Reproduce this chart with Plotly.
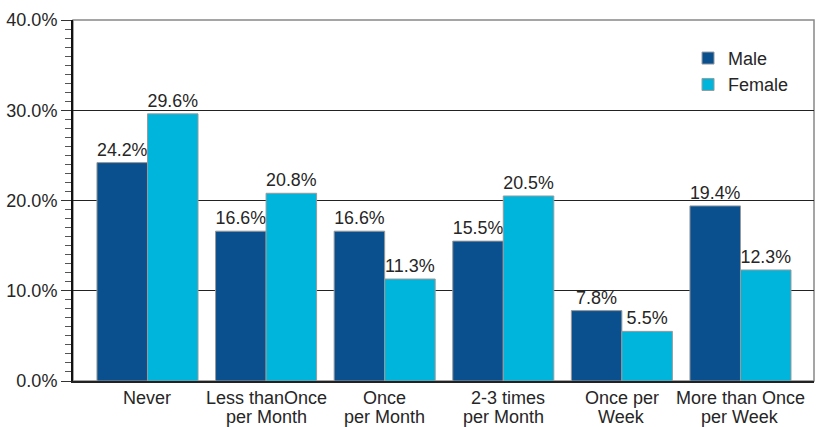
import plotly.graph_objects as go

categories = ["Never", "Less thanOnce<br>per Month", "Once<br>per Month",
              "  2-3 times<br>per Month", "Once per<br>Week", "More than Once<br>per Week"]
male = [24.2, 16.6, 16.6, 15.5, 7.8, 19.4]
female = [29.6, 20.8, 11.3, 20.5, 5.5, 12.3]
y_ticks = [0, 10, 20, 30, 40]

FONT = "Liberation Sans, Arial, sans-serif"
TXT = "#262626"
FS = 18
x_idx = list(range(len(categories)))

fig = go.Figure()
fig.add_trace(go.Bar(
    x=x_idx, y=male, name="Male",
    marker=dict(color="#0a4f8e", line=dict(color="#9a9a9a", width=1)),
    text=[f"{v:.1f}%" for v in male], textposition="outside",
    textfont=dict(size=FS, color=TXT, family=FONT), cliponaxis=False,
))
fig.add_trace(go.Bar(
    x=x_idx, y=female, name="Female",
    marker=dict(color="#00b5dc", line=dict(color="#9a9a9a", width=1)),
    text=[f"{v:.1f}%" for v in female], textposition="outside",
    textfont=dict(size=FS, color=TXT, family=FONT), cliponaxis=False,
))

# category labels, one annotation per line for tighter line spacing
annotations = []
for i, cat in enumerate(categories):
    for j, line in enumerate(cat.split("<br>")):
        annotations.append(dict(
            x=i, xref="x", y=0, yref="paper", yanchor="top", xanchor="center",
            text=line.replace(" ", "&nbsp;") if line.startswith(" ") else line,
            showarrow=False, yshift=-5 - 19 * j,
            font=dict(size=FS, color=TXT, family=FONT),
        ))

xr = [-0.628, 5.62]
fig.update_layout(
    width=818, height=427,
    margin=dict(l=73, r=4, t=20, b=46, autoexpand=False),
    plot_bgcolor="white", paper_bgcolor="white",
    barmode="group", bargap=0.148, bargroupgap=0,
    font=dict(family=FONT, size=FS, color=TXT),
    xaxis=dict(
        range=xr, tickmode="array", tickvals=x_idx, showticklabels=False,
        showgrid=False, ticks="", showline=True, linecolor="#222222", linewidth=2,
        layer="below traces", automargin=False,
    ),
    xaxis2=dict(
        range=xr, overlaying="x", anchor="y", side="bottom",
        tickmode="array", tickvals=[0.5, 1.5, 2.5, 3.5, 4.5],
        ticks="outside", ticklen=10, tickcolor="#333333", tickwidth=1,
        showticklabels=False, showgrid=False, showline=False, automargin=False,
    ),
    yaxis=dict(
        range=[0, 40], tickmode="array", tickvals=y_ticks,
        ticktext=[f"{v:.1f}%" for v in y_ticks],
        showgrid=True, gridcolor="#222222", gridwidth=1,
        showline=True, linecolor="#111111", linewidth=2,
        ticks="outside", ticklen=10, tickcolor="#333333", tickwidth=1,
        minor=dict(dtick=1, tick0=0, ticks="outside", ticklen=6, tickcolor="#555555", tickwidth=1, showgrid=False),
        tickfont=dict(size=FS, color=TXT), zeroline=False, automargin=False,
    ),
    legend=dict(
        x=0.83, y=0.945, xanchor="left", yanchor="top",
        bgcolor="rgba(0,0,0,0)", font=dict(size=FS, color=TXT),
        tracegroupgap=0,
    ),
    annotations=annotations,
    shapes=[dict(type="rect", xref="paper", yref="paper", x0=0, x1=1, y0=0, y1=1,
                 line=dict(color="#888888", width=1.5), layer="below")],
)

fig.write_html("out.html")
